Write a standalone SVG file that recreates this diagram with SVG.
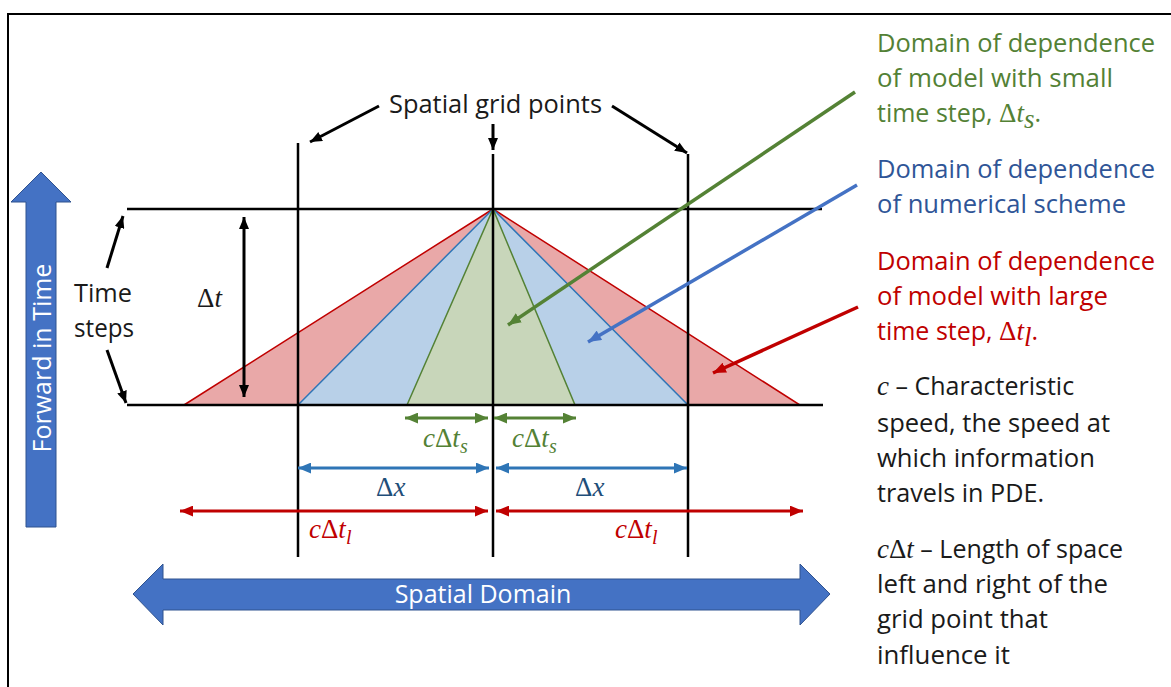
<svg xmlns="http://www.w3.org/2000/svg" width="1171" height="687" viewBox="0 0 1171 687">
<style>
.t{font-family:"Open Sans","Liberation Sans",sans-serif;font-size:25px}
.m{font-family:"Liberation Serif","DejaVu Serif",serif;font-size:27px}
.i{font-style:italic}
.blk{stroke:#000;stroke-width:2.5;fill:none}
.grn{fill:#538135}.blu{fill:#2F5597}.red{fill:#C00000}.dk{fill:#1a1a1a}
</style>
<defs>
<marker id="ah" viewBox="0 0 12 10" refX="12" refY="5" markerWidth="12" markerHeight="10" markerUnits="userSpaceOnUse" orient="auto-start-reverse"><path d="M0,0 L12,5 L0,10 z" fill="#000"/></marker>
<marker id="ag" viewBox="0 0 12 10" refX="12" refY="5" markerWidth="13" markerHeight="11" markerUnits="userSpaceOnUse" orient="auto-start-reverse"><path d="M0,0 L12,5 L0,10 z" fill="#548235"/></marker>
<marker id="ab" viewBox="0 0 12 10" refX="12" refY="5" markerWidth="13" markerHeight="11" markerUnits="userSpaceOnUse" orient="auto-start-reverse"><path d="M0,0 L12,5 L0,10 z" fill="#2E75B6"/></marker>
<marker id="ar" viewBox="0 0 12 10" refX="12" refY="5" markerWidth="13" markerHeight="11" markerUnits="userSpaceOnUse" orient="auto-start-reverse"><path d="M0,0 L12,5 L0,10 z" fill="#C00000"/></marker>
<marker id="pb" viewBox="0 0 12 10" refX="12" refY="5" markerWidth="14" markerHeight="11" markerUnits="userSpaceOnUse" orient="auto"><path d="M0,0 L12,5 L0,10 z" fill="#4472C4"/></marker>
</defs>
<rect width="1171" height="687" fill="#fff"/>
<path id="frame" d="M8,700 V14 H1185" fill="none" stroke="#000" stroke-width="2"/>

<g id="forward-in-time">
<polygon points="26,527 26,202 11,202 41,172 71,202 56,202 56,527" fill="#4472C4" stroke="#2F528F" stroke-width="1"/>
<text class="t" x="0" y="0" transform="translate(51,358) rotate(-90)" text-anchor="middle" fill="#fff">Forward in Time</text>
</g>

<g id="spatial-domain">
<polygon points="133,594 163,564 163,579 800,579 800,564 830,594 800,625 800,610 163,610 163,625" fill="#4472C4" stroke="#2F528F" stroke-width="1"/>
<text class="t" x="483" y="603" text-anchor="middle" fill="#fff">Spatial Domain</text>
</g>

<g id="domains">
<polygon id="dom-large" points="184,405 493,209 800,405" fill="#E9A8A8" stroke="#C00000" stroke-width="1.5"/>
<polygon id="dom-numerical" points="298,405 493,209 688,405" fill="#B8D0E8" stroke="#2E75B6" stroke-width="1.5"/>
<polygon id="dom-small" points="407,405 493,209 575,405" fill="#C8D6BA" stroke="#548235" stroke-width="1.5"/>
</g>

<g id="grid">
<line class="blk" x1="127" y1="209" x2="822" y2="209"/>
<line class="blk" x1="127" y1="405" x2="823" y2="405"/>
<line class="blk" x1="298" y1="143" x2="298" y2="557"/>
<line class="blk" x1="493" y1="154" x2="493" y2="557"/>
<line class="blk" x1="688" y1="154" x2="688" y2="557"/>
</g>

<g id="connectors">
<line x1="379" y1="106" x2="310" y2="142" stroke="#000" stroke-width="3" marker-end="url(#ah)"/>
<line x1="612" y1="106" x2="687" y2="153" stroke="#000" stroke-width="3" marker-end="url(#ah)"/>
<line x1="493" y1="124" x2="493" y2="150" stroke="#000" stroke-width="3" marker-end="url(#ah)"/>
<line x1="107" y1="268" x2="123" y2="216" stroke="#000" stroke-width="3" marker-end="url(#ah)"/>
<line x1="107" y1="350" x2="126" y2="403" stroke="#000" stroke-width="3" marker-end="url(#ah)"/>
<line x1="244" y1="217" x2="244" y2="397" stroke="#000" stroke-width="3" marker-start="url(#ah)" marker-end="url(#ah)"/>
<line x1="405" y1="418" x2="488" y2="418" stroke="#548235" stroke-width="3" marker-start="url(#ag)" marker-end="url(#ag)"/>
<line x1="494" y1="418" x2="576" y2="418" stroke="#548235" stroke-width="3" marker-start="url(#ag)" marker-end="url(#ag)"/>
<line x1="298" y1="468" x2="489" y2="468" stroke="#2E75B6" stroke-width="3" marker-start="url(#ab)" marker-end="url(#ab)"/>
<line x1="496" y1="468" x2="687" y2="468" stroke="#2E75B6" stroke-width="3" marker-start="url(#ab)" marker-end="url(#ab)"/>
<line x1="180" y1="511" x2="488" y2="511" stroke="#C00000" stroke-width="3" marker-start="url(#ar)" marker-end="url(#ar)"/>
<line x1="496" y1="511" x2="803" y2="511" stroke="#C00000" stroke-width="3" marker-start="url(#ar)" marker-end="url(#ar)"/>
<line x1="855" y1="92" x2="508" y2="325" stroke="#548235" stroke-width="3.5" marker-end="url(#ag)"/>
<line x1="857" y1="185" x2="588" y2="342" stroke="#4472C4" stroke-width="3.5" marker-end="url(#pb)"/>
<line x1="858" y1="307" x2="713" y2="373" stroke="#C00000" stroke-width="3.5" marker-end="url(#ar)"/>
</g>

<g id="left-labels">
<text class="t dk" x="389" y="113" textLength="213" lengthAdjust="spacingAndGlyphs">Spatial grid points</text>
<text class="t dk" x="74" y="302" textLength="58" lengthAdjust="spacingAndGlyphs">Time</text>
<text class="t dk" x="74" y="337" textLength="60" lengthAdjust="spacingAndGlyphs">steps</text>
<text class="m dk" x="197" y="307">Δ<tspan class="i">t</tspan></text>
</g>

<g id="dim-labels">
<text class="m grn" x="423" y="447"><tspan class="i">c</tspan>Δ<tspan class="i">t</tspan><tspan class="i" dy="6" font-size="20">s</tspan></text>
<text class="m grn" x="512" y="447"><tspan class="i">c</tspan>Δ<tspan class="i">t</tspan><tspan class="i" dy="6" font-size="20">s</tspan></text>
<text class="m" fill="#1F4E79" x="376" y="496">Δ<tspan class="i">x</tspan></text>
<text class="m" fill="#1F4E79" x="575" y="496">Δ<tspan class="i">x</tspan></text>
<text class="m red" x="309" y="538"><tspan class="i">c</tspan>Δ<tspan class="i">t</tspan><tspan class="i" dy="6" font-size="20">l</tspan></text>
<text class="m red" x="615" y="538"><tspan class="i">c</tspan>Δ<tspan class="i">t</tspan><tspan class="i" dy="6" font-size="20">l</tspan></text>
</g>

<g id="legend-small">
<text class="t grn" x="877" y="52" textLength="278" lengthAdjust="spacingAndGlyphs">Domain of dependence</text>
<text class="t grn" x="877" y="87" textLength="236" lengthAdjust="spacingAndGlyphs">of model with small</text>
<text class="t grn" x="877" y="122">time step, <tspan class="m">Δ<tspan class="i">t</tspan></tspan><tspan class="m i" dy="6" font-size="20">s</tspan><tspan dy="-6">.</tspan></text>
</g>
<g id="legend-numerical">
<text class="t blu" x="877" y="178" textLength="278" lengthAdjust="spacingAndGlyphs">Domain of dependence</text>
<text class="t blu" x="877" y="213" textLength="249" lengthAdjust="spacingAndGlyphs">of numerical scheme</text>
</g>
<g id="legend-large">
<text class="t red" x="877" y="270" textLength="278" lengthAdjust="spacingAndGlyphs">Domain of dependence</text>
<text class="t red" x="877" y="305" textLength="231" lengthAdjust="spacingAndGlyphs">of model with large</text>
<text class="t red" x="877" y="340">time step, <tspan class="m">Δ<tspan class="i">t</tspan></tspan><tspan class="m i" dy="6" font-size="20">l</tspan><tspan dy="-6">.</tspan></text>
</g>
<g id="legend-c">
<text class="t dk" x="877" y="395"><tspan class="m i">c</tspan> – Characteristic</text>
<text class="t dk" x="877" y="432" textLength="233" lengthAdjust="spacingAndGlyphs">speed, the speed at</text>
<text class="t dk" x="877" y="467" textLength="218" lengthAdjust="spacingAndGlyphs">which information</text>
<text class="t dk" x="877" y="502" textLength="167" lengthAdjust="spacingAndGlyphs">travels in PDE.</text>
</g>
<g id="legend-cdt">
<text class="t dk" x="877" y="558"><tspan class="m"><tspan class="i">c</tspan>Δ<tspan class="i">t</tspan></tspan> – Length of space</text>
<text class="t dk" x="877" y="593" textLength="231" lengthAdjust="spacingAndGlyphs">left and right of the</text>
<text class="t dk" x="877" y="628" textLength="171" lengthAdjust="spacingAndGlyphs">grid point that</text>
<text class="t dk" x="877" y="664" textLength="133" lengthAdjust="spacingAndGlyphs">influence it</text>
</g>
</svg>
